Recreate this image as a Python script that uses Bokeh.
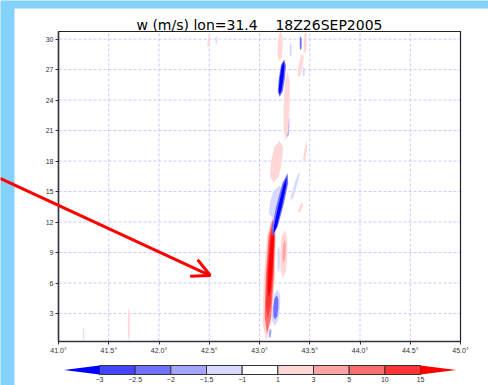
import numpy as np
from bokeh.plotting import figure
from bokeh.models import (Range1d, FixedTicker, PrintfTickFormatter, Arrow, OpenHead,
                          LinearAxis)
from bokeh.embed import file_html
from bokeh.resources import INLINE
from bokeh.core.properties import value

# ---------------- data ----------------
title_text = "w (m/s) lon=31.4 \u00a0\u00a0 18Z26SEP2005"
x_lim = [41.0, 45.0]
y_lim = [0.25, 30.75]
x_ticks = [41.0, 41.5, 42.0, 42.5, 43.0, 43.5, 44.0, 44.5, 45.0]
y_ticks = [3, 6, 9, 12, 15, 18, 21, 24, 27, 30]

levels = [-3, -2.5, -2, -1.5, -1, 1, 3, 5, 10, 15]
level_labels = ["\u22123", "\u22122.5", "\u22122", "\u22121.5", "\u22121", "1", "3", "5", "10", "15"]
level_colors = ["#0000ff", "#4545ff", "#7070ff", "#a5a5ff", "#d9d9ff", "#ffffff",
                "#ffd7d7", "#ffa3a3", "#ff6e6e", "#ff3535", "#ff0000"]

# shaded w features (lon of bottom / top, height km of bottom / top, half width deg, w m/s)
blob_x0 = [43.065, 43.075, 43.08, 43.09, 43.235, 43.24, 43.19, 43.15, 43.155, 43.10,
           43.13, 43.13, 43.14, 43.31, 43.14, 43.39, 43.44, 43.28,
           43.26, 43.20, 43.20, 43.20, 43.39, 43.41, 43.31, 43.45, 43.44,
           41.25, 41.70, 42.49, 42.57]
blob_y0 = [0.3, 1.0, 2.5, 4.5, 6.5, 8.0, 7.0, 1.8, 2.4, 0.6,
           12.4, 10.6, 10.8, 14.0, 15.9, 12.9, 17.8, 20.3,
           20.0, 27.8, 24.3, 24.5, 26.2, 28.9, 28.2, 28.6, 26.3,
           0.3, 0.3, 29.2, 29.5]
blob_x1 = [43.13, 43.13, 43.135, 43.135, 43.25, 43.25, 43.19, 43.18, 43.17, 43.11,
           43.20, 43.28, 43.27, 43.40, 43.20, 43.43, 43.47, 43.29,
           43.28, 43.21, 43.245, 43.24, 43.43, 43.41, 43.31, 43.46, 43.44,
           41.25, 41.70, 42.50, 42.57]
blob_y1 = [12.6, 12.3, 12.0, 11.3, 11.2, 10.2, 9.7, 5.4, 4.8, 1.5,
           15.6, 16.8, 16.4, 17.0, 20.0, 13.9, 19.9, 22.4,
           26.8, 30.75, 28.0, 27.8, 28.6, 30.3, 29.7, 30.75, 27.3,
           1.7, 3.6, 30.3, 30.3]
blob_hw = [0.055, 0.04, 0.03, 0.02, 0.035, 0.015, 0.012, 0.04, 0.025, 0.012,
           0.06, 0.035, 0.018, 0.015, 0.055, 0.015, 0.012, 0.012,
           0.03, 0.025, 0.03, 0.018, 0.02, 0.01, 0.01, 0.015, 0.01,
           0.008, 0.01, 0.012, 0.008]
blob_w = [2, 7, 12, 16, 2, 4, -1.2, -1.2, -2.2, -1.7,
          -1.2, -2.2, -3.5, -1.2, 2, 2, 2, -1.7,
          2, 2, -2.2, -3.5, 2, -2.2, -1.2, 2, -1.2,
          2, 2, 2, -1.2]

# red annotation arrow (lon, km)
arrow_x = [40.42, 42.51]
arrow_y = [16.3, 6.74]

# ---------------- layout constants (pixels) ----------------
W, H = 488, 385
PLOT_L, PLOT_R, PLOT_T, PLOT_B = 58, 460, 31, 341
PANEL_L, PANEL_T = 14, 8
CB_L, CB_SEG, CB_TOP, CB_H = 99, 35.67, 365, 9
BG_BLUE = "#82d2fa"
FONT = "Liberation Sans"

sx = (PLOT_R - PLOT_L) / (x_lim[1] - x_lim[0])
sy = (PLOT_B - PLOT_T) / (y_lim[1] - y_lim[0])
xr = Range1d(x_lim[0] - PLOT_L / sx, x_lim[1] + (W - PLOT_R) / sx)
yr = Range1d(y_lim[0] - (H - PLOT_B) / sy, y_lim[1] + PLOT_T / sy)

p = figure(width=W, height=H, x_range=xr, y_range=yr,
           output_backend="svg", toolbar_location=None, min_border=0,
           x_axis_location=None, y_axis_location=None)
p.extra_x_ranges = {"page": Range1d(0, W), "cb": Range1d(-CB_L / CB_SEG, (W - CB_L) / CB_SEG)}
p.extra_y_ranges = {"page": Range1d(H, 0),
                    "cb": Range1d(-(H - CB_TOP - CB_H) / CB_H, 1 + CB_TOP / CB_H)}
for g in p.grid:
    g.visible = False
p.outline_line_color = None
p.background_fill_color = BG_BLUE
p.border_fill_color = BG_BLUE

# white panel
p.quad(left=PANEL_L, right=W, top=PANEL_T, bottom=H, fill_color="white", line_color=None,
       x_range_name="page", y_range_name="page")

# grid lines
gx = x_ticks[1:-1]
p.segment(x0=gx, y0=[y_lim[0]] * len(gx), x1=gx, y1=[y_lim[1]] * len(gx),
          line_color="#c8c8ff", line_dash="3 2", line_width=1)
p.segment(x0=[x_lim[0]] * len(y_ticks), y0=y_ticks, x1=[x_lim[1]] * len(y_ticks), y1=y_ticks,
          line_color="#c8c8ff", line_dash="3 2", line_width=1)

# shaded features
xs, ys, cs = [], [], []
tt = np.array([0.0, 0.15, 0.5, 0.85, 1.0])
ff = np.array([0.0, 0.8, 1.0, 0.8, 0.0])
for x0, y0, x1, y1, hw, w in zip(blob_x0, blob_y0, blob_x1, blob_y1, blob_hw, blob_w):
    cx = x0 + tt * (x1 - x0)
    cy = y0 + tt * (y1 - y0)
    xs.append(list(cx - hw * ff) + list((cx + hw * ff)[::-1]))
    ys.append(list(cy) + list(cy[::-1]))
    cs.append(level_colors[int(np.digitize(w, levels))])
p.patches(xs, ys, fill_color=cs, line_color=None)

# frame
p.quad(left=x_lim[0], right=x_lim[1], bottom=y_lim[0], top=y_lim[1],
       fill_color=None, line_color="#222222", line_width=1.2)

# axes
yax = LinearAxis(fixed_location=x_lim[0], ticker=FixedTicker(ticks=y_ticks), bounds=tuple(y_lim))
xax = LinearAxis(fixed_location=y_lim[0], ticker=FixedTicker(ticks=x_ticks), bounds=tuple(x_lim),
                 formatter=PrintfTickFormatter(format="%.1f\u00b0"))
for ax in (xax, yax):
    ax.major_label_text_font = FONT
    ax.major_label_text_font_size = "7px"
    ax.major_label_text_color = "#333333"
    ax.axis_line_color = "#333344"
    ax.axis_line_width = 1.5
    ax.major_tick_line_color = "#333333"
    ax.major_tick_out = 3
    ax.major_tick_in = 0
    ax.minor_tick_line_color = None
    ax.major_label_standoff = 2
p.add_layout(yax, "left")
p.add_layout(xax, "below")

# title
p.text(x=[(PLOT_L + PLOT_R) / 2], y=[24], text=[title_text], text_align="center",
       text_baseline="alphabetic", text_font=value("DejaVu Sans"), text_font_size="14px",
       text_color="black", x_range_name="page", y_range_name="page")

# colour bar
idx = list(range(len(levels)))
p.quad(left=idx[:-1], right=idx[1:], bottom=0, top=1,
       fill_color=level_colors[1:-1], line_color="#333333", line_width=1,
       x_range_name="cb", y_range_name="cb")
p.patch([-1, 0, 0], [0.5, 1, 0], fill_color=level_colors[0], line_color=None,
        x_range_name="cb", y_range_name="cb")
p.patch([idx[-1], idx[-1] + 1, idx[-1]], [0, 0.5, 1], fill_color=level_colors[-1], line_color=None,
        x_range_name="cb", y_range_name="cb")
p.text(x=idx, y=[-0.25] * len(idx), text=level_labels, text_align="center", text_baseline="top",
       text_font=value(FONT), text_font_size="7px", text_color="#333333",
       x_range_name="cb", y_range_name="cb")

# arrow
p.add_layout(Arrow(end=OpenHead(size=18, line_color="#ff0000", line_width=3),
                   x_start=arrow_x[0], y_start=arrow_y[0],
                   x_end=arrow_x[1], y_end=arrow_y[1],
                   line_color="#ff0000", line_width=3))

open("out.html", "w").write(file_html(p, INLINE))
